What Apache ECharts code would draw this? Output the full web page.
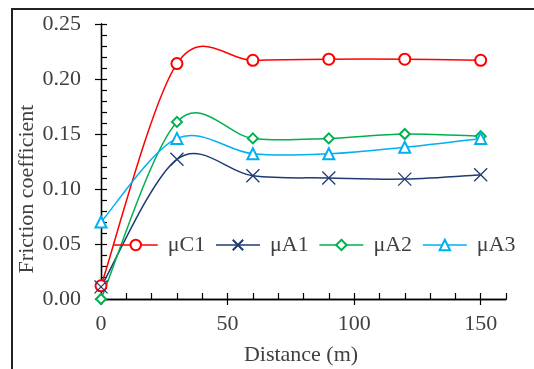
<!DOCTYPE html>
<html>
<head>
<meta charset="utf-8">
<script src="https://cdn.jsdelivr.net/npm/echarts@6/dist/echarts.min.js"></script>
<style>html,body{margin:0;padding:0;background:#fff}#c{width:534px;height:369px}</style>
</head>
<body>
<div id="c"></div>
<script>
const distances = [0, 30, 60, 90, 120, 150];
const muC1 = [0.012, 0.214, 0.217, 0.218, 0.218, 0.217];
const muA1 = [0.011, 0.127, 0.112, 0.110, 0.109, 0.113];
const muA2 = [0.000, 0.161, 0.146, 0.146, 0.150, 0.148];
const muA3 = [0.070, 0.146, 0.132, 0.132, 0.138, 0.146];
const xTickLabels = [0, 50, 100, 150];
const yTickLabels = ['0.00', '0.05', '0.10', '0.15', '0.20', '0.25'];
const seriesNames = ['μC1', 'μA1', 'μA2', 'μA3'];

const FONT = '"Liberation Serif", "Times New Roman", serif';
const colors = ['#FF0000', '#1F3A73', '#00B050', '#00B0F0'];
const symbols = ['emptyCircle', 'path://M0,0L10,10M10,0L0,10', 'emptyDiamond', 'emptyTriangle'];
const sizes = [11, 13, 10, 11];
const allData = [muC1, muA1, muA2, muA3];

const chart = echarts.init(document.getElementById('c'), null, {renderer: 'canvas'});
const pair = arr => distances.map((d, i) => [d, arr[i]]);

// Excel-like smoothed curve (Catmull-Rom via cubic Bezier) through points placed with the axes' scales
function curveRenderer(k) {
  return function (params, api) {
    const pts = distances.map((d, i) => api.coord([d, allData[k][i]]));
    const n = pts.length;
    const P = i => pts[Math.max(0, Math.min(n - 1, i))];
    const f = 1 / 6;
    let d = 'M' + pts[0][0] + ',' + pts[0][1];
    for (let i = 0; i < n - 1; i++) {
      const p0 = P(i - 1), p1 = P(i), p2 = P(i + 1), p3 = P(i + 2);
      const c1 = [p1[0] + (p2[0] - p0[0]) * f, p1[1] + (p2[1] - p0[1]) * f];
      const c2 = [p2[0] - (p3[0] - p1[0]) * f, p2[1] - (p3[1] - p1[1]) * f];
      d += 'C' + c1[0] + ',' + c1[1] + ',' + c2[0] + ',' + c2[1] + ',' + p2[0] + ',' + p2[1];
    }
    return {
      type: 'path',
      shape: {pathData: d},
      style: {fill: 'none', stroke: colors[k], lineWidth: 1.5}
    };
  };
}

const axisCommonX = {
  type: 'value', min: 0, max: 160, position: 'bottom',
  axisLine: {show: true, lineStyle: {color: '#000', width: 1.3}},
  splitLine: {show: false}
};
const axisCommonY = {
  type: 'value', min: 0, max: 0.25, position: 'left',
  axisLine: {show: true, lineStyle: {color: '#000', width: 1.3}},
  splitLine: {show: false}
};

const curveSeries = seriesNames.map((n, k) => ({
  type: 'custom', xAxisIndex: 0, yAxisIndex: 0, z: 2, silent: true,
  data: [[distances[0], allData[k][0]]],
  renderItem: curveRenderer(k)
}));
const markerSeries = seriesNames.map((n, k) => ({
  name: n, type: 'line', xAxisIndex: 0, yAxisIndex: 0, z: 3,
  data: pair(allData[k]),
  symbol: symbols[k], symbolSize: sizes[k],
  color: colors[k],
  lineStyle: {color: colors[k], width: 1.5, opacity: 0},
  itemStyle: k === 1 ? {color: colors[k], borderColor: colors[k], borderWidth: 1.3}
                     : {color: colors[k], borderWidth: 1.3}
}));

chart.setOption({
  animation: false,
  grid: {left: 101, right: 28, top: 24, bottom: 70, containLabel: false},
  xAxis: [
    Object.assign({}, axisCommonX, {
      interval: 10,
      axisTick: {show: true, inside: true, length: 6, lineStyle: {color: '#000', width: 1.2}},
      axisLabel: {
        margin: 14, color: '#404040', fontFamily: FONT, fontSize: 22,
        formatter: v => xTickLabels.indexOf(Math.round(v)) >= 0 ? String(Math.round(v)) : ''
      }
    }),
    Object.assign({}, axisCommonX, {
      interval: 50,
      axisTick: {show: true, inside: false, length: 6, lineStyle: {color: '#000', width: 1.2},
                 customValues: xTickLabels},
      axisLabel: {show: false}
    })
  ],
  yAxis: [
    Object.assign({}, axisCommonY, {
      interval: 0.01,
      axisTick: {show: true, inside: true, length: 6, lineStyle: {color: '#000', width: 1.2}},
      axisLabel: {
        margin: 20, color: '#404040', fontFamily: FONT, fontSize: 22,
        formatter: v => {
          const s = v.toFixed(2);
          return yTickLabels.indexOf(s) >= 0 ? s : '';
        }
      }
    }),
    Object.assign({}, axisCommonY, {
      interval: 0.05,
      axisTick: {show: true, inside: false, length: 6, lineStyle: {color: '#000', width: 1.2}},
      axisLabel: {show: false}
    })
  ],
  legend: {
    left: 108, top: 229, width: 424, itemWidth: 44, itemHeight: 13, itemGap: 10,
    lineStyle: {opacity: 1, width: 1.5},
    textStyle: {fontFamily: FONT, fontSize: 22, color: '#404040', padding: [0, 0, 0, 5]},
    data: seriesNames
  },
  graphic: [
    {type: 'rect', shape: {x: 12, y: 9, width: 700, height: 600},
     style: {fill: 'none', stroke: '#222', lineWidth: 2}, silent: true},
    {type: 'text', x: 27, y: 189, rotation: Math.PI / 2,
     style: {text: 'Friction coefficient', font: '22px ' + FONT, fill: '#404040',
             textAlign: 'center', textVerticalAlign: 'middle'}},
    {type: 'text', x: 301, y: 355,
     style: {text: 'Distance (m)', font: '22px ' + FONT, fill: '#404040',
             textAlign: 'center', textVerticalAlign: 'middle'}}
  ],
  series: curveSeries.concat(markerSeries)
});
</script>
</body>
</html>
